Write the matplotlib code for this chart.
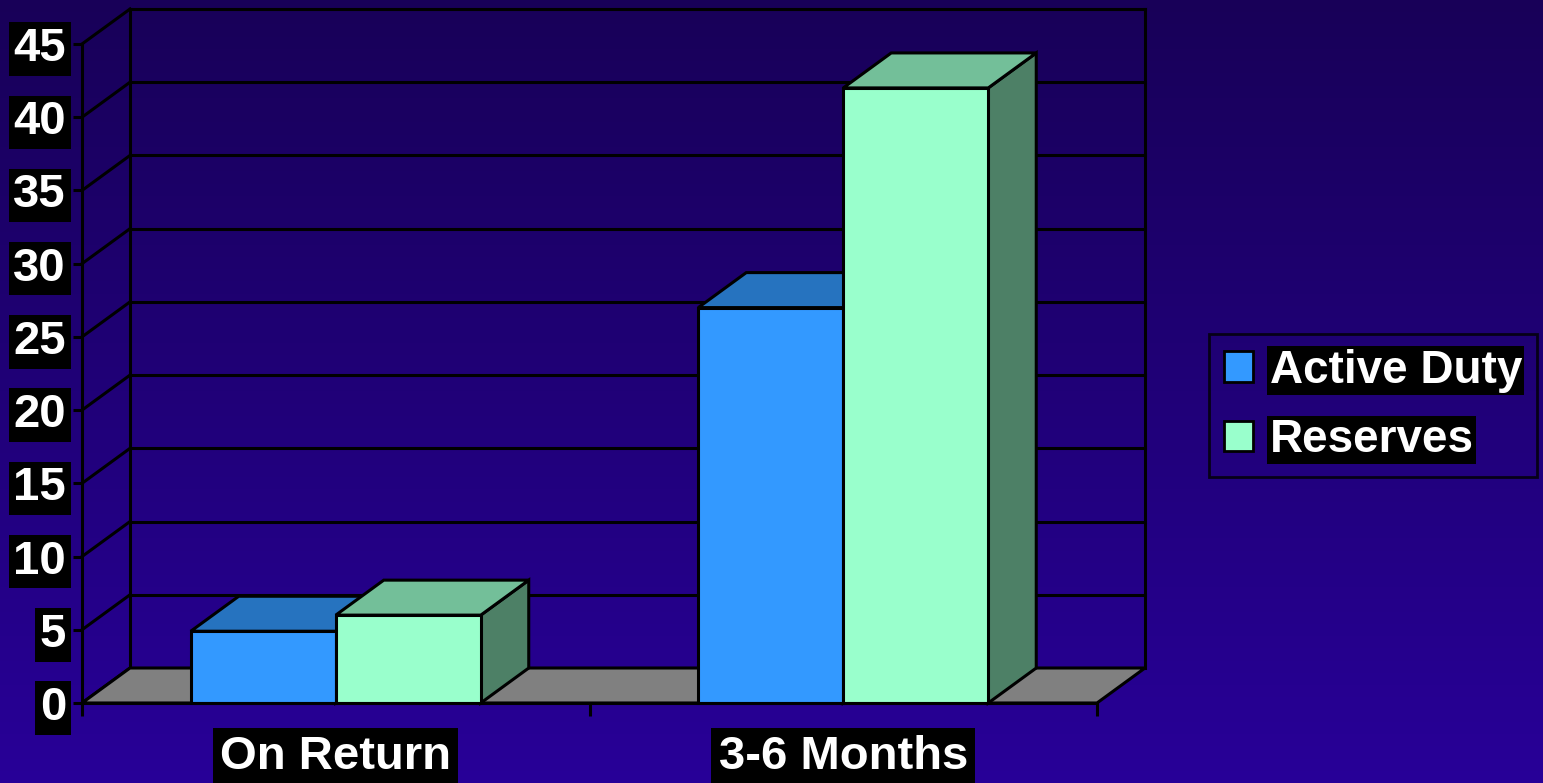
import numpy as np
import matplotlib
matplotlib.use("Agg")
import matplotlib.pyplot as plt
from matplotlib.patches import Polygon, Patch

# data
categories = ["On Return", "3-6 Months"]
series_names = ["Active Duty", "Reserves"]
active_duty = [4.9, 27]
reserves = [6, 42]
y_ticks = list(range(0, 50, 5))

front_colors = ["#3399ff", "#99ffcc"]
top_colors = ["#2673bf", "#73bf99"]
side_colors = ["#1f5c99", "#4d8066"]

W, H = 1543, 783
fig = plt.figure(figsize=(W / 100, H / 100), dpi=100)

# background gradient
bg = fig.add_axes([0, 0, 1, 1], zorder=-10)
grad = np.linspace(0, 1, 256).reshape(-1, 1)
top_c = np.array([24, 0, 88]) / 255
bot_c = np.array([40, 0, 152]) / 255
img = top_c + (bot_c - top_c) * grad[:, :, None]
bg.imshow(img, aspect="auto", extent=[0, 1, 0, 1])
bg.axis("off")

# front plane in pixels (from top): x 82..1097, value 0 at 703, 45 at 44
X0, X1, Y0, Y45 = 82, 1097, 703, 44
kx = (X1 - X0) / 2
ky = (Y0 - Y45) / 45
DX = 48 / kx
DY = 35 / ky

ax = fig.add_axes([0, 0, 1, 1])
ax.set_facecolor("none")
ax.set_xlim(-X0 / kx, (W - X0) / kx)
ax.set_ylim(-(H - Y0) / ky, Y0 / ky)

lw = 2.2

# floor
floor = Polygon([(0, 0), (2, 0), (2 + DX, DY), (DX, DY)], closed=True,
                facecolor="#808080", edgecolor="black", lw=lw, zorder=1)
ax.add_patch(floor)

# walls / grid
for v in y_ticks[1:]:
    ax.plot([DX, 2 + DX], [v + DY, v + DY], color="black", lw=lw, zorder=0.5)
for v in y_ticks:
    ax.plot([0, DX], [v, v + DY], color="black", lw=lw, zorder=0.5)
ax.plot([DX, DX], [DY, 45 + DY], color="black", lw=lw, zorder=0.5)
ax.plot([2 + DX, 2 + DX], [DY, 45 + DY], color="black", lw=lw, zorder=0.5)

# bars
bw = 1 / 3.5
for j, vals in enumerate([active_duty, reserves]):
    for i, v in enumerate(vals):
        x = i + 0.5 - bw + j * bw
        z = 2 + j
        side = Polygon([(x + bw, 0), (x + bw + DX, DY), (x + bw + DX, v + DY), (x + bw, v)],
                       facecolor=side_colors[j], edgecolor="black", lw=lw, zorder=z)
        top = Polygon([(x, v), (x + bw, v), (x + bw + DX, v + DY), (x + DX, v + DY)],
                      facecolor=top_colors[j], edgecolor="black", lw=lw, zorder=z)
        front = Polygon([(x, 0), (x + bw, 0), (x + bw, v), (x, v)],
                        facecolor=front_colors[j], edgecolor="black", lw=lw, zorder=z)
        ax.add_patch(side)
        ax.add_patch(top)
        ax.add_patch(front)

# axes spines at the front plane
for s in ["top", "right"]:
    ax.spines[s].set_visible(False)
ax.spines["left"].set_position(("data", 0))
ax.spines["left"].set_bounds(0, 45)
ax.spines["bottom"].set_position(("data", 0))
ax.spines["bottom"].set_bounds(0, 2)
for s in ["left", "bottom"]:
    ax.spines[s].set_linewidth(lw)
    ax.spines[s].set_zorder(5)

font = dict(family="Liberation Sans", weight="bold", size=34, color="white")

ax.set_yticks(y_ticks)
ax.set_yticklabels([str(t) for t in y_ticks], **font)
ax.tick_params(axis="y", direction="out", length=6.5, width=lw, pad=5)
for lbl in ax.get_yticklabels():
    lbl.set_bbox(dict(facecolor="black", edgecolor="none", boxstyle="square,pad=0.1"))

ax.set_xticks([0, 1, 2])
ax.set_xticklabels([])
ax.tick_params(axis="x", which="major", direction="out", length=9, width=lw)
ax.set_xticks([0.5, 1.5], minor=True)
ax.set_xticklabels(categories, minor=True, **font)
ax.tick_params(axis="x", which="minor", length=0, pad=23)
for lbl in ax.get_xticklabels(minor=True):
    lbl.set_bbox(dict(facecolor="black", edgecolor="none", boxstyle="square,pad=0.15"))

# legend
handles = [Patch(facecolor=c, edgecolor="black", lw=2) for c in front_colors]
leg = ax.legend(handles, series_names, loc="upper left",
                bbox_to_anchor=(1209 / W, 1 - 334 / H), bbox_transform=fig.transFigure,
                prop=dict(family="Liberation Sans", weight="bold", size=33),
                handlelength=0.64, handleheight=0.64, handletextpad=0.36,
                labelspacing=0.55, borderpad=0.32, borderaxespad=0, fancybox=False)
leg.get_frame().set_facecolor("none")
leg.get_frame().set_edgecolor("black")
leg.get_frame().set_linewidth(2)
for t in leg.get_texts():
    t.set_color("white")
    t.set_bbox(dict(facecolor="black", edgecolor="none", boxstyle="square,pad=0.05"))

fig.savefig("out.png", dpi=100)
